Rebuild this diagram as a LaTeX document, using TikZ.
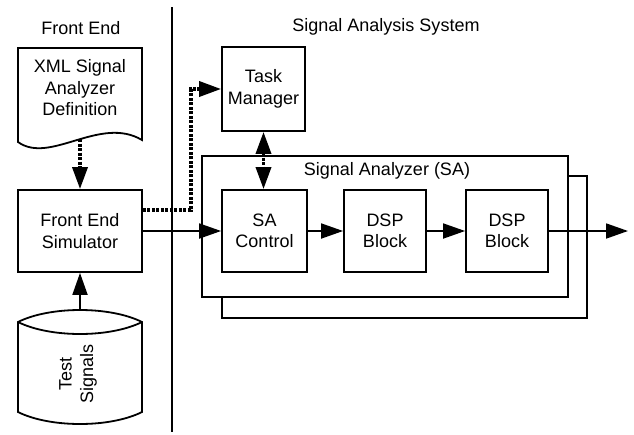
\documentclass[tikz,border=0pt]{standalone}
\usepackage{fontspec}
\setmainfont{Liberation Sans}
\usetikzlibrary{arrows.meta}
\begin{document}
\begin{tikzpicture}[x=1pt,y=-1pt,
  every node/.style={font=\fontsize{18}{21.5}\selectfont, align=center, inner sep=0pt},
  box/.style={draw, line width=1.8pt, minimum width=#1, minimum height=82pt},
  box/.default=82pt,
  wire/.style={line width=1.8pt},
  dotline/.style={line width=3.5pt, dash pattern=on 3pt off 1.5pt},
  tri/.tip={Triangle[length=22pt,width=15pt]},
  >=tri]
\useasboundingbox (0,0) rectangle (634,434);

% headings and divider
\node (hfe) at (81,28) {Front End};
\node (hsas) at (386,27) {Signal Analysis System};
\draw[wire] (172,7) -- (172,432);

% XML definition document
\draw[line width=1.8pt] (18,142) -- (18,48) -- (142,48) -- (142,140)
  .. controls (100,115) and (50,165) .. (18,142) -- cycle;
\node (xml) at (80,88) {XML Signal\\Analyzer\\Definition};
\coordinate (xmlb) at (80,139);

% test signal store (cylinder)
\draw[line width=1.8pt] (18,322) .. controls (50,306) and (110,306) .. (142,322)
  -- (142,412) .. controls (110,428) and (50,428) .. (18,412) -- cycle;
\draw[line width=1.8pt] (18,322) .. controls (50,338) and (110,338) .. (142,322);
\coordinate (tstop) at (80,310);
\node[rotate=90] (ts) at (78,374) {Test\\Signals};

% front end simulator
\node[box=124pt] (fes) at (80,231) {Front End\\Simulator};

% signal analyzer frames
\draw[wire] (568,176) -- (587,176) -- (587,318) -- (222,318) -- (222,297);
\draw[wire] (202,156) rectangle (568,297);
\node (sal) at (387,171) {Signal Analyzer (SA)};

% blocks
\node[box=83pt, minimum height=84pt] (tm) at (263.5,89) {Task\\Manager};
\node[box=85pt] (sac) at (264.5,231) {SA\\Control};
\node[box] (dsp1) at (385,231) {DSP\\Block};
\node[box] (dsp2) at (507,231) {DSP\\Block};
\coordinate (out) at (628,231);

% connectors
\draw[dotline,->] (xmlb) -- (fes.north);
\draw[wire,->] (tstop) -- (fes.south);
\draw[wire,->] (fes.east) -- (sac.west);
\draw[dotline,->] ([yshift=21pt]fes.east) -- ++(48,0) |- (tm.west);
\draw[dotline,<->] (tm.south) -- (tm.south |- sac.north);
\draw[wire,->] (sac.east) -- (dsp1.west);
\draw[wire,->] (dsp1.east) -- (dsp2.west);
\draw[wire,->] (dsp2.east) -- (out);
\end{tikzpicture}
\end{document}
